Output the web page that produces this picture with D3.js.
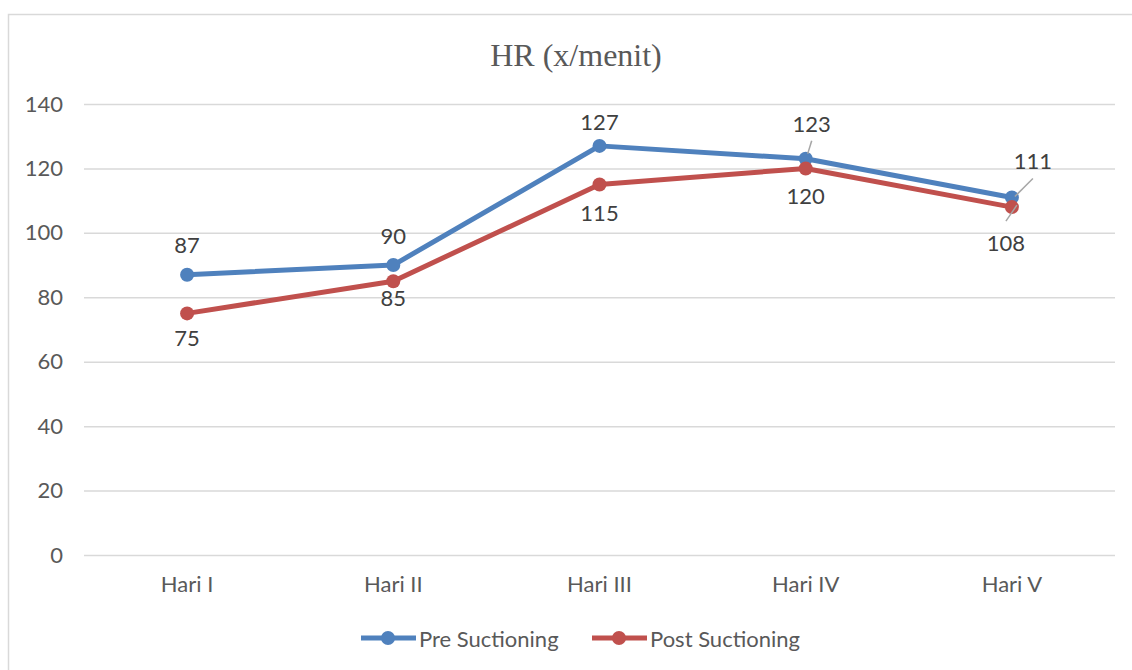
<!DOCTYPE html>
<html>
<head>
<meta charset="utf-8">
<script src="https://cdn.jsdelivr.net/npm/d3@7"></script>
<style>
  html, body { margin: 0; padding: 0; background: #fff; }
  svg { display: block; }
</style>
</head>
<body>
<svg id="chart" width="1132" height="670"></svg>
<script>
// Heart rate per day, before and after suctioning
const categories = ["Hari I", "Hari II", "Hari III", "Hari IV", "Hari V"];
const preValues = [87, 90, 127, 123, 111];
const postValues = [75, 85, 115, 120, 108];
const yTicks = [0, 20, 40, 60, 80, 100, 120, 140];
const seriesNames = ["Pre Suctioning", "Post Suctioning"];
const chartTitle = "HR (x/menit)";

const W = 1132, H = 670;
const svg = d3.select("#chart");
const labelFont = "Lato, 'Open Sans', 'Liberation Sans', sans-serif";
const fs = 22;

// Outer frame
svg.append("rect")
  .attr("x", 8.5).attr("y", 14.5)
  .attr("width", W + 10).attr("height", H)
  .attr("fill", "#fff").attr("stroke", "#d9d9d9").attr("stroke-width", 1.5);

const plot = { left: 84, right: 1115, top: 104, bottom: 555 };

const x = d3.scaleBand().domain(categories).range([plot.left, plot.right]);
const y = d3.scaleLinear().domain([0, 140]).range([plot.bottom, plot.top]);
const cx = c => x(c) + x.bandwidth() / 2;

// Title
svg.append("text")
  .attr("x", 576).attr("y", 66)
  .attr("text-anchor", "middle")
  .attr("font-family", "'Liberation Serif', 'Times New Roman', serif")
  .attr("font-size", 32)
  .attr("fill", "#595959")
  .text(chartTitle);

// Gridlines + y labels
const yAxis = d3.axisLeft(y).tickValues(yTicks)
  .tickSize(-(plot.right - plot.left)).tickPadding(21);
const gy = svg.append("g").attr("transform", `translate(${plot.left},0)`).call(yAxis);
gy.select(".domain").remove();
gy.selectAll(".tick line").attr("stroke", "#d9d9d9").attr("stroke-width", 1.5);
gy.selectAll(".tick text")
  .attr("font-family", labelFont).attr("font-size", fs).attr("fill", "#595959");

// x labels
const xAxis = d3.axisBottom(x).tickSize(0).tickPadding(21);
const gx = svg.append("g").attr("transform", `translate(0,${plot.bottom})`).call(xAxis);
gx.select(".domain").remove();
gx.selectAll(".tick text")
  .attr("font-family", labelFont).attr("font-size", fs).attr("fill", "#595959");

const series = [
  { name: seriesNames[0], values: preValues, color: "#4F81BD" },
  { name: seriesNames[1], values: postValues, color: "#C0504D" }
];

const line = d3.line().x((d, i) => cx(categories[i])).y(d => y(d));

series.forEach(s => {
  svg.append("path")
    .datum(s.values)
    .attr("d", line)
    .attr("fill", "none")
    .attr("stroke", s.color)
    .attr("stroke-width", 5)
    .attr("stroke-linejoin", "round")
    .attr("stroke-linecap", "round");
  svg.selectAll(null)
    .data(s.values)
    .enter().append("circle")
    .attr("cx", (d, i) => cx(categories[i]))
    .attr("cy", d => y(d))
    .attr("r", 7)
    .attr("fill", s.color);
});

// Data labels: offsets relative to each point, with optional leader line
const preOffsets = [
  { dx: 0, dy: -30 }, { dx: 0, dy: -30 }, { dx: 0, dy: -24 },
  { dx: 6, dy: -35, leader: [[2, -5], [6, -18]] },
  { dx: 21, dy: -37, leader: [[3, -1], [21, -19]] }
];
const postOffsets = [
  { dx: 0, dy: 24 }, { dx: 0, dy: 16 }, { dx: 0, dy: 28 },
  { dx: 0, dy: 27 },
  { dx: -6, dy: 35, leader: [[-6, 14], [5, -2]] }
];

function drawLabels(values, offsets) {
  values.forEach((v, i) => {
    const px = cx(categories[i]), py = y(v), o = offsets[i];
    if (o.leader) {
      svg.append("line")
        .attr("x1", px + o.leader[0][0]).attr("y1", py + o.leader[0][1])
        .attr("x2", px + o.leader[1][0]).attr("y2", py + o.leader[1][1])
        .attr("stroke", "#a6a6a6").attr("stroke-width", 1.5);
    }
    svg.append("text")
      .attr("x", px + o.dx).attr("y", py + o.dy)
      .attr("text-anchor", "middle")
      .attr("dominant-baseline", "central")
      .attr("font-family", labelFont).attr("font-size", fs)
      .attr("fill", "#404040")
      .text(v);
  });
}
drawLabels(preValues, preOffsets);
drawLabels(postValues, postOffsets);

// Legend
const legendItems = [
  { x: 361, color: series[0].color, name: series[0].name },
  { x: 592, color: series[1].color, name: series[1].name }
];
const ly = 638;
legendItems.forEach(it => {
  svg.append("line")
    .attr("x1", it.x).attr("x2", it.x + 55)
    .attr("y1", ly).attr("y2", ly)
    .attr("stroke", it.color).attr("stroke-width", 5);
  svg.append("circle").attr("cx", it.x + 27).attr("cy", ly).attr("r", 7).attr("fill", it.color);
  svg.append("text")
    .attr("x", it.x + 58).attr("y", ly)
    .attr("dominant-baseline", "central")
    .attr("font-family", labelFont).attr("font-size", fs)
    .attr("fill", "#595959")
    .text(it.name);
});
</script>
</body>
</html>
